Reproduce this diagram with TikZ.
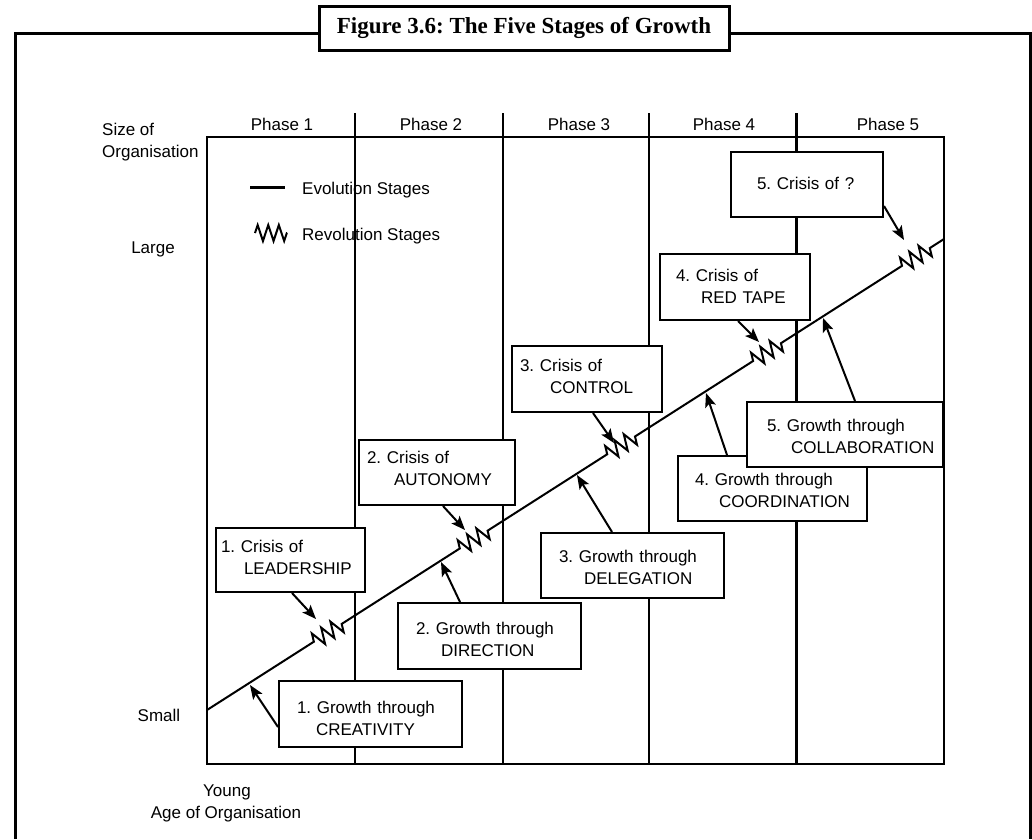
\documentclass[tikz,border=0pt]{standalone}
\usepackage{fontspec}
\setmainfont{Liberation Sans}
\newfontfamily\titlefont{Liberation Serif}
\usetikzlibrary{arrows.meta,decorations.pathmorphing,calc}
\frenchspacing
\begin{document}
\begin{tikzpicture}[x=1pt,y=-1pt,
  txt/.style={font=\fontsize{17}{22}\selectfont, inner sep=0pt},
  stagebox/.style={draw, line width=2pt, fill=white, font=\fontsize{17}{22}\selectfont\frenchspacing,
     align=left, anchor=north west, inner ysep=0pt},
  arr/.style={line width=2pt, -{Stealth[length=14pt,width=11pt,inset=3pt]}},
  zz/.style={decoration={zigzag,segment length=11pt,amplitude=8pt}},
  phase/.style={line width=2pt},
]
\useasboundingbox (0,0) rectangle (1032,839);
% outer frame
\draw[line width=3pt] (15,839) -- (15,33) -- (1030,33) -- (1030,839);
\node[draw, line width=3pt, fill=white, minimum width=410pt, minimum height=44pt, inner sep=0pt,
      font=\titlefont\bfseries\fontsize{23}{26}\selectfont] (title) at (524,28) {Figure 3.6: The Five Stages of Growth};
% plot area
\draw[line width=2pt] (207,137) rectangle (944,764);
\draw[phase] (355,113) -- (355,764);
\draw[phase] (503,113) -- (503,764);
\draw[phase] (649,113) -- (649,764);
\draw[line width=3pt] (796,113) -- (796,764);
% phase labels
\node[txt, anchor=base] (p1) at (282,130) {Phase 1};
\node[txt, anchor=base] (p2) at (431,130) {Phase 2};
\node[txt, anchor=base] (p3) at (579,130) {Phase 3};
\node[txt, anchor=base] (p4) at (724,130) {Phase 4};
\node[txt, anchor=base] (p5) at (888,130) {Phase 5};
% axis labels
\node[txt, anchor=base west, align=left] (size) at (102,157) {Size of\\Organisation};
\node[txt, anchor=base] (large) at (153,253) {Large};
\node[txt, anchor=base] (small) at (159,721) {Small};
\node[txt, anchor=base] (young) at (227,796) {Young};
\node[txt, anchor=base] (age) at (226,818) {Age of Organisation};
% legend
\coordinate (ev0) at (250,187);
\coordinate (ev1) at (285,187);
\draw[line width=3pt] (ev0) -- (ev1);
\node[txt, anchor=base west] (evl) at (302,194) {Evolution Stages};
\coordinate (rv0) at (255,233);
\coordinate (rv1) at (287,233);
\draw[line width=2pt, decorate, decoration={zigzag,segment length=10.6pt,amplitude=8pt}] (rv0) -- (rv1);
\node[txt, anchor=base west] (rvl) at (302,240) {Revolution Stages};
% growth line
\coordinate (L0) at (207,710);
\coordinate (L1) at (944,239);
\draw[line width=2pt, zz] (L0) -- ($(L0)!0.145!(L1)$) decorate{ -- ($(L0)!0.183!(L1)$)}
  -- ($(L0)!0.343!(L1)$) decorate{ -- ($(L0)!0.381!(L1)$)}
  -- ($(L0)!0.543!(L1)$) decorate{ -- ($(L0)!0.581!(L1)$)}
  -- ($(L0)!0.741!(L1)$) decorate{ -- ($(L0)!0.779!(L1)$)}
  -- ($(L0)!0.943!(L1)$) decorate{ -- ($(L0)!0.981!(L1)$)}
  -- (L1);
% boxes
\node[stagebox, minimum width=149pt, minimum height=64pt, inner xsep=5pt, text width=139pt, text height=24pt, text depth=40pt] (cr1) at (215,527) {\mbox{1. Crisis of}\\\mbox{\hspace*{23pt}LEADERSHIP}};
\node[stagebox, minimum width=183pt, minimum height=66pt, inner xsep=18pt, text width=147pt, text height=32pt, text depth=34pt] (gr1) at (278,680) {\mbox{1. Growth through}\\\mbox{\hspace*{19pt}CREATIVITY}};
\node[stagebox, minimum width=183pt, minimum height=66pt, inner xsep=18pt, text width=147pt, text height=31pt, text depth=35pt] (gr2) at (397,602) {\mbox{2. Growth through}\\\mbox{\hspace*{25pt}DIRECTION}};
\node[stagebox, minimum width=156pt, minimum height=65pt, inner xsep=8pt, text width=140pt, text height=23pt, text depth=42pt] (cr2) at (358,439) {\mbox{2. Crisis of}\\\mbox{\hspace*{27pt}AUTONOMY}};
\node[stagebox, minimum width=183pt, minimum height=65pt, inner xsep=18pt, text width=147pt, text height=29pt, text depth=36pt] (gr3) at (540,532) {\mbox{3. Growth through}\\\mbox{\hspace*{25pt}DELEGATION}};
\node[stagebox, minimum width=150pt, minimum height=66pt, inner xsep=8pt, text width=134pt, text height=25pt, text depth=41pt] (cr3) at (511,345) {\mbox{3. Crisis of}\\\mbox{\hspace*{30pt}CONTROL}};
\node[stagebox, minimum width=189pt, minimum height=65pt, inner xsep=17pt, text width=155pt, text height=29pt, text depth=36pt] (gr4) at (677,455) {\mbox{4. Growth through}\\\mbox{\hspace*{24pt}COORDINATION}};
\node[stagebox, minimum width=150pt, minimum height=66pt, inner xsep=16pt, text width=118pt, text height=27pt, text depth=39pt] (cr4) at (659,253) {\mbox{4. Crisis of}\\\mbox{\hspace*{25pt}RED TAPE}};
\node[stagebox, minimum width=196pt, minimum height=65pt, inner xsep=20pt, text width=156pt, text height=29pt, text depth=36pt] (gr5) at (746,401) {\mbox{5. Growth through}\\\mbox{\hspace*{24pt}COLLABORATION}};
\node[stagebox, minimum width=152pt, minimum height=65pt, inner xsep=26pt, text width=100pt, text height=37pt, text depth=28pt] (cr5) at (730,151) {\mbox{5. Crisis of ?}};
% arrow tips
\coordinate (t1) at (316,619);
\coordinate (t2) at (465,530);
\coordinate (t3) at (614,443);
\coordinate (t4) at (759,342);
\coordinate (t5) at (904,240);
\coordinate (g1) at (250,685);
\coordinate (g2) at (441,562);
\coordinate (g3) at (577,475);
\coordinate (g4) at (706,393);
\coordinate (g5) at (823,318);
% arrows
\draw[arr] ($(cr1.south west)+(77,0)$) -- (t1);
\draw[arr] ($(cr2.south west)+(85,0)$) -- (t2);
\draw[arr] ($(cr3.south west)+(82,0)$) -- (t3);
\draw[arr] ($(cr4.south west)+(79,0)$) -- (t4);
\draw[arr] ($(cr5.south east)+(0,-12)$) -- (t5);
\draw[arr] ($(gr1.north west)+(0,47)$) -- (g1);
\draw[arr] ($(gr2.north west)+(63,0)$) -- (g2);
\draw[arr] ($(gr3.north west)+(72,0)$) -- (g3);
\draw[arr] ($(gr4.north west)+(50,0)$) -- (g4);
\draw[arr] ($(gr5.north west)+(109,0)$) -- (g5);
\end{tikzpicture}
\end{document}
